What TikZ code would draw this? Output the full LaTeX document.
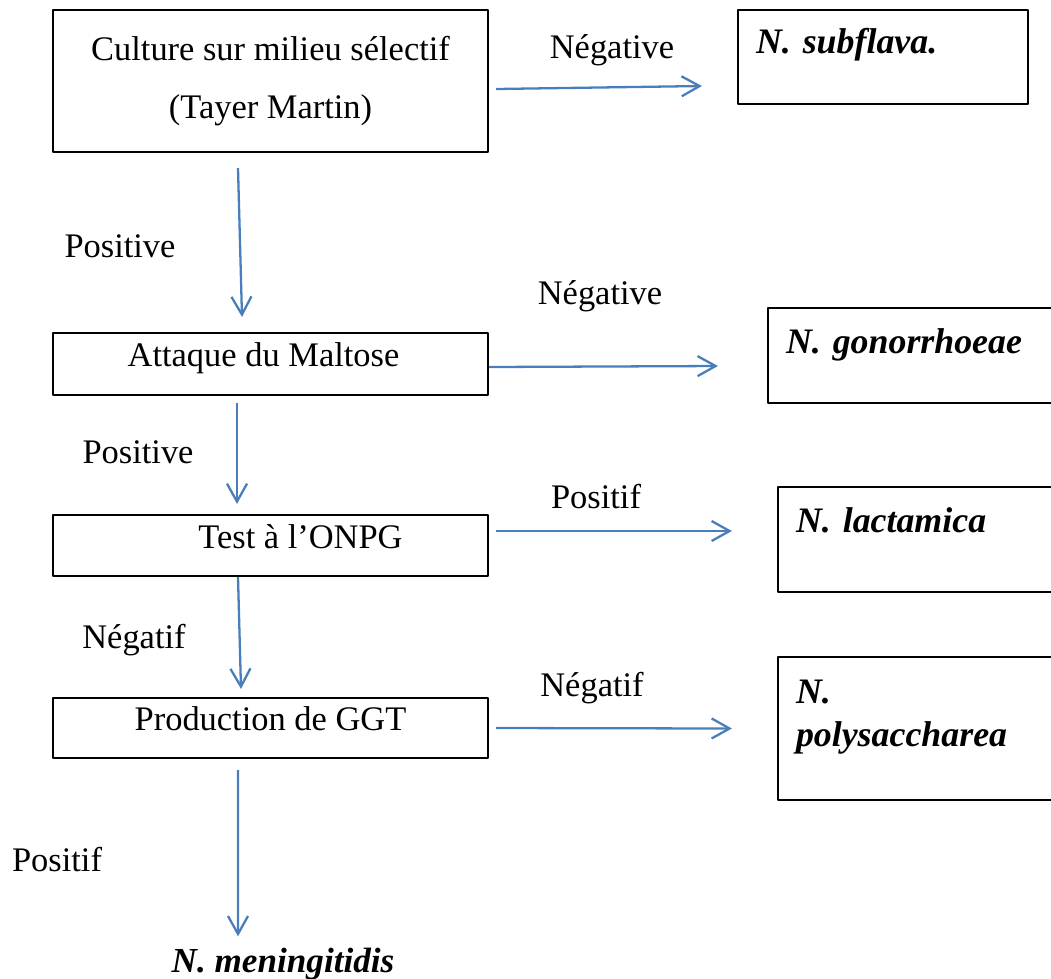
\documentclass[tikz,border=0pt]{standalone}
\usepackage{fontspec}
\setmainfont{Liberation Serif}
\usetikzlibrary{arrows.meta}
\definecolor{flowblue}{RGB}{74,126,187}
\frenchspacing

\begin{document}
\begin{tikzpicture}[>={Straight Barb[length=0.18cm,width=0.2cm]},line join=bevel,
  testbox/.style={draw,line width=0.6pt,inner sep=0pt,minimum width=4.35cm,align=center,font=\fontsize{9.8}{16.5}\selectfont},
  oneline/.style={text height=0.25cm,text depth=0.2cm},
  resbox/.style={draw,line width=0.6pt,inner xsep=0.18cm,inner ysep=0pt,align=left,text height=0.25cm,font=\fontsize{10.2}{12.5}\selectfont\bfseries\itshape},
  lbl/.style={inner sep=0pt,font=\fontsize{9.8}{12}\selectfont},
  flow/.style={->,draw=flowblue,line width=0.65pt}]
\useasboundingbox (0,0) rectangle (10.51,-9.78);
% tests
\node[testbox,minimum height=1.42cm] (cult) at (2.705,-0.81) {Culture sur milieu sélectif\\(Tayer Martin)};
\node[testbox,oneline,minimum height=0.62cm] (malt) at (2.705,-3.64) {Attaque du Maltose\hspace*{0.14cm}};
\node[testbox,oneline,minimum height=0.61cm] (onpg) at (2.705,-5.455) {\hspace*{0.6cm}Test à l’ONPG};
\node[testbox,oneline,minimum height=0.60cm] (ggt) at (2.705,-7.28) {Production de GGT};
% results
\node[resbox,text width=2.54cm,minimum height=0.94cm,text depth=0.33cm] (sub) at (8.83,-0.57) {N. subflava.};
\node[resbox,text width=2.56cm,minimum height=0.95cm,text depth=0.30cm] (gono) at (9.14,-3.555) {N. gonorrhoeae};
\node[resbox,text width=2.46cm,minimum height=1.05cm,text depth=0.40cm] (lact) at (9.19,-5.395) {N. lactamica};
\node[resbox,text width=2.46cm,minimum height=1.43cm,text depth=0.76cm] (poly) at (9.19,-7.285) {N.\\polysaccharea};
\node[lbl,font=\fontsize{10}{12}\selectfont\bfseries\itshape] (menin) at (2.83,-9.64) {N. meningitidis};
% labels
\node[lbl] (l1) at (6.12,-0.50) {Négative};
\node[lbl] (l2) at (1.20,-2.46) {Positive};
\node[lbl] (l3) at (6.00,-2.96) {Négative};
\node[lbl] (l4) at (1.38,-4.52) {Positive};
\node[lbl] (l5) at (5.96,-4.97) {Positif};
\node[lbl] (l6) at (1.34,-6.40) {Négatif};
\node[lbl] (l7) at (5.92,-6.88) {Négatif};
\node[lbl] (l8) at (0.57,-8.60) {Positif};
% arrows
\draw[flow] ([xshift=0.07cm,yshift=-0.08cm]cult.east) -- ([xshift=-0.35cm,yshift=-0.29cm]sub.west);
\draw[flow] ([xshift=-0.325cm,yshift=-0.15cm]cult.south) -- ([xshift=-0.285cm,yshift=0.15cm]malt.north);
\draw[flow] ([yshift=-0.03cm]malt.east) -- ([xshift=-0.49cm,yshift=-0.105cm]gono.west);
\draw[flow] ([xshift=-0.335cm,yshift=-0.07cm]malt.south) -- ([xshift=-0.335cm,yshift=0.10cm]onpg.north);
\draw[flow] ([xshift=0.07cm,yshift=0.145cm]onpg.east) -- ([xshift=-0.45cm,yshift=0.085cm]lact.west);
\draw[flow] ([xshift=-0.325cm]onpg.south) -- ([xshift=-0.295cm,yshift=0.08cm]ggt.north);
\draw[flow] ([xshift=0.07cm]ggt.east) -- ([xshift=-0.45cm]poly.west);
\draw[flow] ([xshift=-0.325cm,yshift=-0.11cm]ggt.south) -- ([xshift=-0.45cm,yshift=0.11cm]menin.north);
\end{tikzpicture}
\end{document}
